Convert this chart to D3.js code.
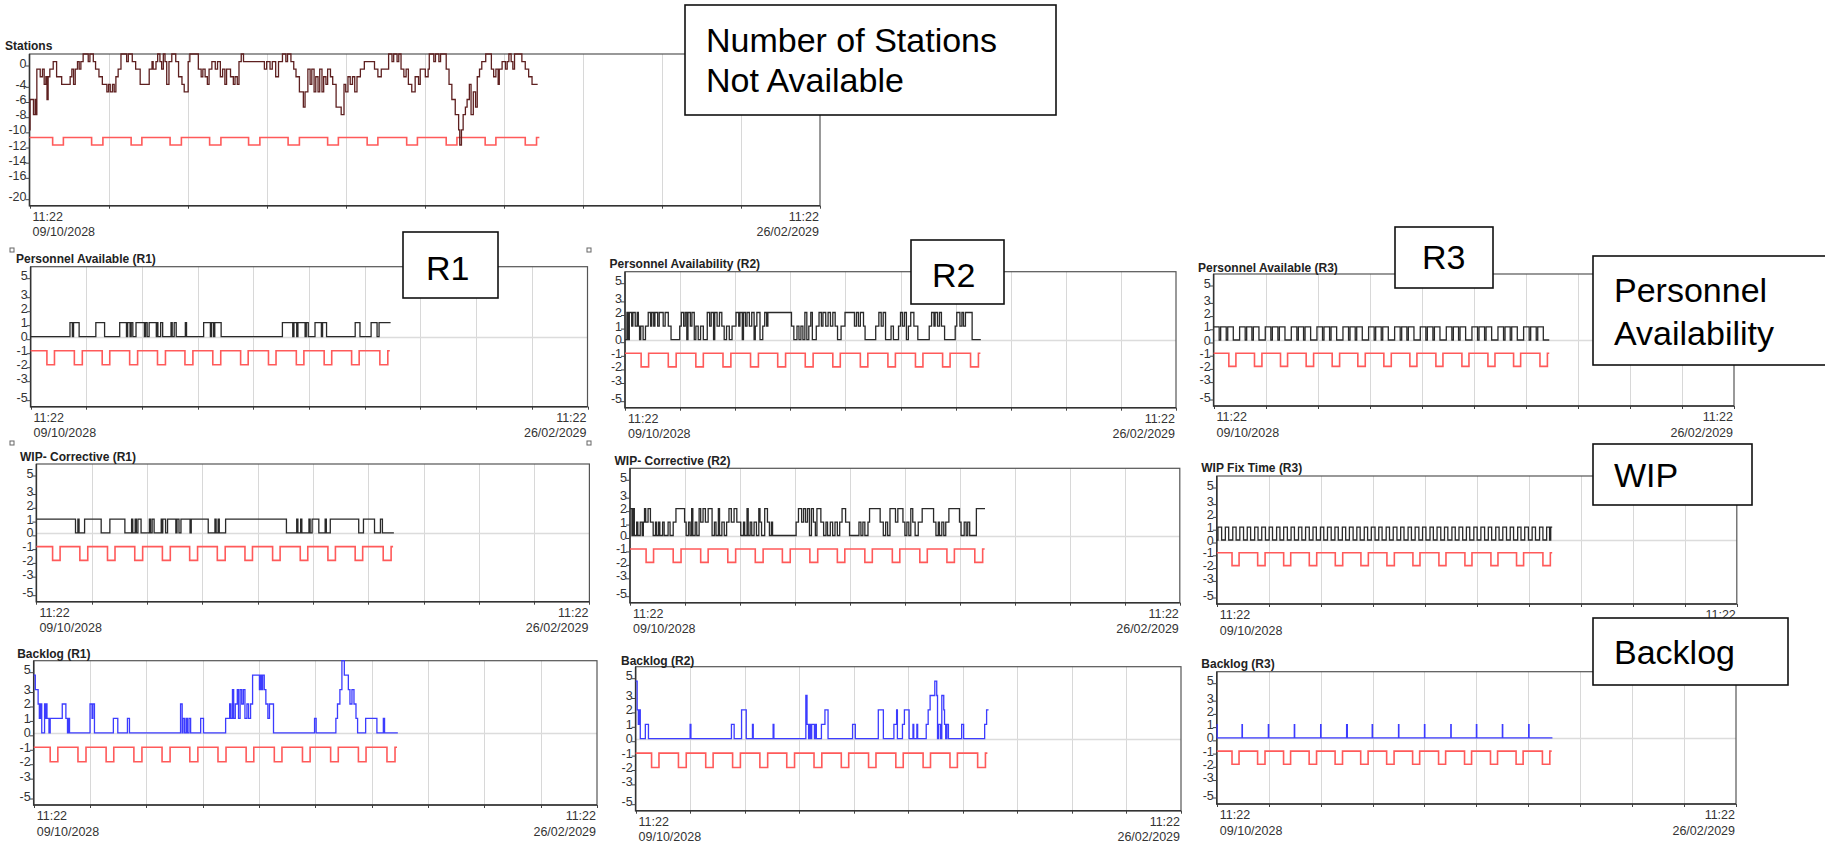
<!DOCTYPE html>
<html>
<head>
<meta charset="utf-8">
<script src="https://cdn.jsdelivr.net/npm/d3@7"></script>
<style>
body { margin: 0; background: #fff; }
svg { display: block; font-family: "Liberation Sans", Arial, sans-serif; }
</style>
</head>
<body>
<script>
// time runs in days after 11:22 09/10/2028, the axis spans 140 days
var spanDays = 140;
var startLabels = ["11:22", "09/10/2028"];
var endLabels = ["11:22", "26/02/2029"];
var stationTicks = [0, -4, -6, -8, -10, -12, -14, -16, -20];
var panelTicks = [5, 3, 2, 1, 0, -1, -2, -3, -5];

// red calendar line: weekend dips [start, end] in days
var weekendDips = [[4.1,6.0],[11.0,13.0],[18.0,19.9],[24.9,26.9],[31.9,33.9],[38.8,40.8],[45.8,47.8],
  [52.8,54.7],[59.8,61.7],[66.8,68.7],[73.8,75.7],[80.7,82.6],[87.8,89.8]];
var calendarEnd = 90.3;
var stationCalendarLevels = [-11, -12];
var panelCalendarLevels = [-1, -2];

// [day, value] step points
var stationsDown = [[0,-10],[0.1,-6],[0.7,-8],[1.0,-6],[1.2,-8],[1.3,-2],[1.9,-3],[2.3,-2],[2.6,-4],[2.9,-3],[3.1,-6],[3.3,-3],[3.6,-2],[4.2,-1],[4.8,-3],[5.7,-4],[7.2,-3],[7.5,-2],[7.8,-4],[8.1,-2],[8.5,-1],[8.8,-2],[9.1,-1],[9.5,0],[10.4,-1],[10.7,0],[11.3,-1],[11.7,-2],[12.3,-3],[12.9,-4],[13.7,-5],[14.0,-4],[14.3,-5],[14.7,-4],[15.0,-5],[15.3,-3],[15.7,-2],[16.2,0],[17.2,-1],[17.5,0],[18.2,-1],[18.8,-2],[19.6,-4],[21.2,-2],[21.7,-1],[21.9,-2],[22.4,-1],[22.7,0],[23.1,-1],[23.4,-2],[23.7,0],[24.0,-1],[24.3,-4],[24.7,-1],[25.2,0],[25.9,-1],[26.4,-3],[27.0,-4],[27.4,-5],[28.1,-1],[28.4,0],[29.9,-2],[30.4,-3],[30.7,-2],[31.1,-3],[31.5,-4],[31.8,-2],[32.3,-1],[32.9,-2],[33.3,-1],[33.8,-3],[34.2,-2],[34.6,-4],[34.9,-2],[35.6,-3],[36.1,-4],[36.4,-3],[36.8,-4],[37.1,-1],[37.5,0],[37.9,-1],[41.6,-2],[42.0,-1],[42.6,-2],[43.0,-1],[43.6,-3],[44.1,-1],[44.8,0],[45.4,-1],[45.7,0],[46.3,-1],[46.8,-2],[47.2,-3],[47.8,-5],[48.5,-7],[48.8,-5],[49.3,-2],[49.7,-4],[50.0,-2],[50.4,-5],[50.7,-3],[51.1,-5],[51.4,-2],[51.8,-5],[52.1,-3],[52.5,-4],[52.8,-2],[53.3,-3],[53.7,-4],[54.3,-7],[55.2,-8],[55.7,-4],[56.0,-5],[56.4,-3],[56.8,-4],[57.2,-3],[57.6,-5],[58.0,-3],[58.6,-2],[59.3,-1],[61.1,-2],[61.7,-3],[62.3,-2],[63.6,0],[64.2,-1],[64.5,0],[65.1,-1],[65.4,0],[65.8,-2],[66.3,-3],[66.7,-2],[67.1,-4],[67.7,-5],[68.3,-3],[68.9,-4],[69.2,-2],[70.1,-3],[70.6,-2],[70.8,0],[71.6,-1],[71.9,0],[72.5,-1],[72.8,0],[73.8,-2],[74.3,-4],[74.8,-6],[75.4,-8],[76.0,-10],[76.2,-12],[76.5,-10],[76.8,-8],[77.2,-7],[77.5,-6],[77.9,-4],[78.2,-8],[78.6,-5],[79.0,-7],[79.3,-3],[79.7,-2],[80.1,-1],[80.8,0],[81.8,-2],[82.2,-3],[82.6,-2],[83.0,-4],[83.2,-2],[83.7,-1],[84.3,-2],[84.6,-1],[84.9,0],[85.3,-1],[85.6,-2],[85.9,0],[87.2,-1],[87.8,-2],[88.4,-3],[89.0,-4],[90.0,-4]];

var personnelR1 = [[0,0],[9.9,1],[10.5,0],[10.8,1],[12.2,0],[16.4,1],[18.6,0],[22.4,1],[24.1,0],[24.4,1],[25.0,0],[25.3,1],[25.7,0],[26.5,1],[28.6,0],[28.9,1],[29.3,0],[29.8,1],[31.6,0],[31.8,1],[32.0,0],[32.7,1],[33.2,0],[35.3,1],[35.6,0],[36.1,1],[36.6,0],[38.9,1],[39.2,0],[43.5,1],[45.2,0],[45.5,1],[46.0,0],[46.3,1],[47.9,0],[63.3,1],[65.9,0],[66.2,1],[66.9,0],[67.2,1],[69.0,0],[69.3,1],[69.8,0],[71.5,1],[73.1,0],[73.4,1],[74.4,0],[81.6,1],[82.8,0],[85.6,1],[87.1,0],[87.6,1],[90.5,1]];

var personnelR2 = [[0,0],[0.5,2],[0.8,0],[1.1,2],[1.7,1],[2.0,2],[2.6,1],[3.1,2],[3.4,1],[3.7,0],[4.0,1],[4.6,0],[5.2,1],[5.9,2],[6.5,1],[6.8,2],[7.3,1],[7.6,2],[8.3,1],[8.7,2],[9.7,1],[10.2,2],[11.0,1],[11.7,0],[13.9,1],[14.3,2],[14.9,1],[15.3,2],[15.7,0],[16.0,2],[16.6,1],[17.0,2],[17.6,0],[18.0,1],[18.6,0],[19.2,1],[19.9,0],[20.9,2],[21.5,1],[21.9,2],[22.5,0],[22.8,2],[23.4,1],[24.0,2],[24.6,1],[25.2,0],[25.8,1],[26.5,0],[27.2,1],[28.2,2],[28.9,1],[29.2,2],[29.8,0],[30.1,2],[30.6,1],[31.0,2],[31.6,1],[32.2,2],[32.8,0],[33.1,1],[33.5,2],[34.3,0],[35.0,1],[35.5,2],[36.0,1],[36.3,2],[42.3,1],[42.9,0],[43.7,1],[44.2,0],[44.7,1],[45.2,0],[45.7,2],[46.2,0],[46.7,1],[47.2,2],[47.6,0],[48.6,1],[49.3,2],[49.9,1],[50.3,2],[51.0,1],[51.6,2],[52.2,1],[52.8,2],[53.4,1],[54.0,0],[54.9,1],[55.9,2],[58.3,1],[58.8,2],[59.3,1],[59.8,2],[60.6,1],[61.0,0],[63.7,1],[64.5,2],[65.1,1],[65.6,2],[66.2,0],[67.6,1],[68.2,0],[69.5,1],[70.0,2],[70.5,1],[71.0,2],[71.5,0],[72.0,1],[72.6,2],[73.4,1],[74.4,0],[77.3,1],[77.9,2],[78.5,1],[78.8,2],[79.4,1],[79.9,2],[80.4,1],[81.2,0],[83.9,1],[84.3,2],[85.1,1],[85.6,2],[86.0,1],[86.5,2],[88.2,0],[90.4,0]];

var personnelR3 = [[0,1],[1.5,0],[1.9,1],[3.4,0],[3.8,1],[5.3,0],
  [7.0,1],[8.5,0],[8.9,1],[10.3,0],[10.7,1],[12.2,0],
  [13.9,1],[15.4,0],[15.8,1],[17.3,0],[17.7,1],[19.2,0],
  [20.9,1],[22.4,0],[22.8,1],[24.2,0],[24.6,1],[26.1,0],
  [27.8,1],[29.3,0],[29.7,1],[31.2,0],[31.6,1],[33.1,0],
  [34.8,1],[36.3,0],[36.7,1],[38.1,0],[38.5,1],[40.0,0],
  [41.7,1],[43.2,0],[43.6,1],[45.1,0],[45.5,1],[47.0,0],
  [48.7,1],[50.2,0],[50.6,1],[52.0,0],[52.4,1],[53.9,0],
  [55.6,1],[57.1,0],[57.5,1],[59.0,0],[59.4,1],[60.9,0],
  [62.6,1],[64.1,0],[64.5,1],[65.9,0],[66.3,1],[67.8,0],
  [69.5,1],[71.0,0],[71.4,1],[72.9,0],[73.3,1],[74.8,0],
  [76.5,1],[78.0,0],[78.4,1],[79.8,0],[80.2,1],[81.7,0],
  [83.4,1],[84.9,0],[85.3,1],[86.8,0],[87.2,1],[88.7,0],[90.3,0]];

var wipR1 = [[0,1],[9.9,0],[10.5,1],[10.8,0],[12.2,1],[16.4,0],[18.6,1],[22.4,0],[24.1,1],[24.4,0],[25.0,1],[25.3,0],[25.7,1],[26.5,0],[28.6,1],[28.9,0],[29.3,1],[29.8,0],[31.6,1],[31.8,0],[32.0,1],[32.7,0],[33.2,1],[35.3,0],[35.6,1],[36.1,0],[36.6,1],[38.9,0],[39.2,1],[43.5,0],[45.2,1],[45.5,0],[46.0,1],[46.3,0],[47.9,1],[63.3,0],[65.9,1],[66.2,0],[66.9,1],[67.2,0],[69.0,1],[69.3,0],[69.8,1],[71.5,0],[73.1,1],[73.4,0],[74.4,1],[81.6,0],[82.8,1],[85.6,0],[87.1,1],[87.6,0],[90.5,0]];

var wipR2 = [[0,2],[0.5,0],[0.8,2],[1.1,0],[1.7,1],[2.0,0],[2.6,1],[3.1,0],[3.4,1],[3.7,2],[4.0,1],[4.6,2],[5.2,1],[5.9,0],[6.5,1],[6.8,0],[7.3,1],[7.6,0],[8.3,1],[8.7,0],[9.7,1],[10.2,0],[11.0,1],[11.7,2],[13.9,1],[14.3,0],[14.9,1],[15.3,0],[15.7,2],[16.0,0],[16.6,1],[17.0,0],[17.6,2],[18.0,1],[18.6,2],[19.2,1],[19.9,2],[20.9,0],[21.5,1],[21.9,0],[22.5,2],[22.8,0],[23.4,1],[24.0,0],[24.6,1],[25.2,2],[25.8,1],[26.5,2],[27.2,1],[28.2,0],[28.9,1],[29.2,0],[29.8,2],[30.1,0],[30.6,1],[31.0,0],[31.6,1],[32.2,0],[32.8,2],[33.1,1],[33.5,0],[34.3,2],[35.0,1],[35.5,0],[36.0,1],[36.3,0],[42.3,1],[42.9,2],[43.7,1],[44.2,2],[44.7,1],[45.2,2],[45.7,0],[46.2,2],[46.7,1],[47.2,0],[47.6,2],[48.6,1],[49.3,0],[49.9,1],[50.3,0],[51.0,1],[51.6,0],[52.2,1],[52.8,0],[53.4,1],[54.0,2],[54.9,1],[55.9,0],[58.3,1],[58.8,0],[59.3,1],[59.8,0],[60.6,1],[61.0,2],[63.7,1],[64.5,0],[65.1,1],[65.6,0],[66.2,2],[67.6,1],[68.2,2],[69.5,1],[70.0,0],[70.5,1],[71.0,0],[71.5,2],[72.0,1],[72.6,0],[73.4,1],[74.4,2],[77.3,1],[77.9,0],[78.5,1],[78.8,0],[79.4,1],[79.9,0],[80.4,1],[81.2,2],[83.9,1],[84.3,0],[85.1,1],[85.6,0],[86.0,1],[86.5,0],[88.2,2],[90.4,2]];

var wipFixR3 = [[0,0],[0.3,1],[1.3,0],[2.3,1],[3.2,0],[4.3,1],[5.2,0],[6.2,1],[7.2,0],[8.2,1],[9.1,0],[10.2,1],[11.1,0],[12.1,1],[13.1,0],[14.1,1],[15.0,0],[16.1,1],[17.0,0],[18.0,1],[19.0,0],[20.0,1],[20.9,0],[22.0,1],[22.9,0],[23.9,1],[24.9,0],[25.9,1],[26.8,0],[27.9,1],[28.8,0],[29.8,1],[30.8,0],[31.8,1],[32.7,0],[33.8,1],[34.7,0],[35.7,1],[36.7,0],[37.7,1],[38.6,0],[39.7,1],[40.6,0],[41.6,1],[42.6,0],[43.6,1],[44.5,0],[45.6,1],[46.5,0],[47.5,1],[48.5,0],[49.5,1],[50.4,0],[51.5,1],[52.4,0],[53.4,1],[54.4,0],[55.4,1],[56.3,0],[57.4,1],[58.3,0],[59.3,1],[60.3,0],[61.3,1],[62.2,0],[63.3,1],[64.2,0],[65.2,1],[66.2,0],[67.2,1],[68.1,0],[69.2,1],[70.1,0],[71.1,1],[72.1,0],[73.1,1],[74.0,0],[75.1,1],[76.0,0],[77.0,1],[78.0,0],[79.0,1],[79.9,0],[81.0,1],[81.9,0],[82.9,1],[83.9,0],[84.9,1],[85.8,0],[86.9,1],[87.8,0],[88.8,1],[89.6,0],[89.9,1],[90.3,1]];

var backlogR1 = [[0,4],[0.4,3],[1.1,2],[1.4,1],[1.7,2],[2.0,0],[2.7,2],[2.9,1],[3.1,2],[3.3,1],[3.8,0],[4.1,1],[7.1,2],[8.0,1],[8.4,0],[8.6,1],[8.9,0],[14.0,2],[14.5,1],[14.7,2],[15.1,0],[19.8,1],[20.9,0],[23.3,1],[23.8,0],[36.5,2],[36.9,0],[37.1,1],[37.5,0],[37.9,1],[38.2,0],[38.6,1],[39.0,0],[41.5,1],[42.2,0],[47.7,1],[48.7,2],[49.0,1],[49.4,3],[49.7,1],[50.1,2],[50.6,3],[50.9,1],[51.3,3],[51.7,2],[52.1,3],[52.5,1],[53.0,2],[53.4,1],[53.9,2],[54.4,4],[56.1,3],[56.3,4],[56.6,3],[56.9,4],[57.3,3],[57.7,2],[58.2,1],[58.6,2],[59.6,0],[69.8,1],[70.2,0],[75.1,1],[75.5,2],[76.1,3],[76.6,5],[77.2,4],[78.2,3],[78.6,2],[79.1,3],[79.6,2],[80.1,1],[80.5,0],[82.5,1],[85.3,0],[86.9,1],[87.2,0],[90.5,0]];

var backlogR2 = [[0,4],[0.4,2],[0.7,1],[0.9,2],[1.2,0],[2.5,1],[3.3,0],[14.0,1],[14.2,0],[24.6,1],[25.3,0],[27.2,2],[28.4,0],[30.0,1],[30.2,0],[35.3,1],[35.5,0],[43.7,3],[44.0,1],[44.4,0],[44.7,1],[45.0,0],[45.2,1],[45.9,0],[46.2,1],[46.4,0],[47.7,1],[48.6,2],[49.4,0],[55.7,1],[56.4,0],[62.3,2],[63.6,0],[66.3,1],[67.0,2],[67.2,0],[68.5,1],[69.0,2],[70.2,0],[71.2,1],[71.4,0],[72.2,1],[72.4,0],[74.6,1],[75.1,2],[75.6,3],[76.8,4],[77.3,3],[77.5,0],[77.8,1],[78.3,0],[78.6,3],[79.1,2],[79.3,1],[79.6,0],[79.9,1],[80.3,0],[83.7,1],[84.2,0],[89.6,1],[90.1,2],[90.6,2]];

var backlogR3 = [[0,1],[0.1,0],[6.8,1],[6.9,0],[13.9,1],[14.0,0],[20.9,1],[21.0,0],[28.0,1],[28.1,0],[35.0,1],[35.2,0],[41.9,1],[42.0,0],[49.0,1],[49.1,0],[56.0,1],[56.1,0],[63.1,1],[63.2,0],[70.0,1],[70.1,0],[77.0,1],[77.1,0],[84.1,1],[84.2,0],[90.5,0]];

// layout of the screenshot
var W = 1825, H = 845;
var svg = d3.select("body").append("svg").attr("width", W).attr("height", H);
svg.append("rect").attr("width", W).attr("height", H).attr("fill", "#fff");

var lineColors = { red: "#ff5a5a", brown: "#5e2020", black: "#2a2a2a", blue: "#3c3cff" };

function calendarSeries(levels) {
  var pts = [[0, levels[0]]];
  weekendDips.forEach(function(w) {
    pts.push([w[0], levels[1]]);
    pts.push([w[1], levels[0]]);
  });
  pts.push([calendarEnd, levels[0]]);
  return pts;
}

function drawPanel(p) {
  var g = svg.append("g");
  var x = d3.scaleLinear().domain([0, spanDays]).range([p.x0, p.x1]);
  var y = d3.scaleLinear().domain(p.yDomain).range([p.y1, p.y0]);
  var gridDays = d3.range(0, spanDays + 1, 14);

  // vertical grid
  g.selectAll(".vg").data(gridDays.slice(1, -1)).enter().append("line")
    .attr("x1", d => Math.round(x(d)) + 0.5).attr("x2", d => Math.round(x(d)) + 0.5)
    .attr("y1", p.y0).attr("y2", p.y1)
    .attr("stroke", "#d8d8d8").attr("stroke-width", 1);

  // zero line
  if (p.zeroLine) {
    g.append("line").attr("x1", p.x0).attr("x2", p.x1)
      .attr("y1", Math.round(y(0)) + 0.5).attr("y2", Math.round(y(0)) + 0.5)
      .attr("stroke", "#dcdcdc").attr("stroke-width", 1.5);
  }

  // bottom ticks
  g.selectAll(".bt").data(gridDays).enter().append("line")
    .attr("x1", d => Math.round(x(d)) + 0.5).attr("x2", d => Math.round(x(d)) + 0.5)
    .attr("y1", p.y1).attr("y2", p.y1 + 3)
    .attr("stroke", "#444");

  // frame
  g.append("rect").attr("x", p.x0).attr("y", p.y0)
    .attr("width", p.x1 - p.x0).attr("height", p.y1 - p.y0)
    .attr("fill", "none").attr("stroke", "#555").attr("stroke-width", 1.2);
  g.append("path")
    .attr("d", "M" + p.x0 + "," + p.y0 + "V" + p.y1 + "H" + p.x1)
    .attr("fill", "none").attr("stroke", "#333").attr("stroke-width", 1.5);

  // y labels, kept inside the frame
  var labelY = function(v) { return Math.max(p.y0 + 9, Math.min(p.y1 - 9, y(v))); };
  g.selectAll(".yt").data(p.ticks).enter().append("line")
    .attr("x1", p.x0 - 4).attr("x2", p.x0)
    .attr("y1", d => labelY(d) + 3).attr("y2", d => labelY(d) + 3)
    .attr("stroke", "#444");
  g.selectAll(".yl").data(p.ticks).enter().append("text")
    .attr("x", p.x0 - 3).attr("y", d => labelY(d) + 4.5)
    .attr("text-anchor", "end").attr("font-size", "12.5px").attr("fill", "#333")
    .text(d => d);

  // x labels (the end date of one panel sits under a call-out box)
  [startLabels, endLabels].forEach(function(lab, i) {
    var t = g.append("text").attr("font-size", "12.5px").attr("fill", "#333")
      .attr("text-anchor", i ? "end" : "start");
    var xx = i ? p.x1 - 1 : p.x0 + 3;
    t.append("tspan").attr("x", xx).attr("y", p.y1 + 15).text(lab[0]);
    if (!(i && p.hideEndDate)) t.append("tspan").attr("x", xx).attr("y", p.y1 + 30.5).text(lab[1]);
  });

  // title
  g.append("text").attr("x", p.tx).attr("y", p.ty)
    .attr("font-size", "12px").attr("font-weight", "bold").attr("fill", "#222")
    .text(p.title);

  // series
  var line = d3.line().x(d => x(d[0])).y(d => y(d[1])).curve(d3.curveStepAfter);
  g.append("path").datum(calendarSeries(p.calendar)).attr("d", line)
    .attr("fill", "none").attr("stroke", lineColors.red).attr("stroke-width", 1.6);
  g.append("path").datum(p.series).attr("d", line)
    .attr("fill", "none").attr("stroke", lineColors[p.color]).attr("stroke-width", 1.3);
}

var panels = [
  { title: "Stations", tx: 5, ty: 50, x0: 29.5, x1: 820, y0: 54, y1: 205.7, yDomain: [-20, 0],
    ticks: stationTicks, series: stationsDown, color: "brown", calendar: stationCalendarLevels, zeroLine: false },
  { title: "Personnel Available (R1)", tx: 16, ty: 263, x0: 30.6, x1: 587.5, y0: 266.7, y1: 406.7, yDomain: [-5, 5],
    ticks: panelTicks, series: personnelR1, color: "black", calendar: panelCalendarLevels, zeroLine: true },
  { title: "Personnel Availability (R2)", tx: 609.6, ty: 268, x0: 625, x1: 1176, y0: 271.7, y1: 407.7, yDomain: [-5, 5],
    ticks: panelTicks, series: personnelR2, color: "black", calendar: panelCalendarLevels, zeroLine: true },
  { title: "Personnel Available (R3)", tx: 1198, ty: 271.5, x0: 1213.6, x1: 1734, y0: 274, y1: 406, yDomain: [-5, 5],
    ticks: panelTicks, series: personnelR3, color: "black", calendar: panelCalendarLevels, zeroLine: true },
  { title: "WIP- Corrective (R1)", tx: 20, ty: 461, x0: 36.4, x1: 589.4, y0: 464, y1: 601.7, yDomain: [-5, 5],
    ticks: panelTicks, series: wipR1, color: "black", calendar: panelCalendarLevels, zeroLine: true },
  { title: "WIP- Corrective (R2)", tx: 614.5, ty: 464.5, x0: 630, x1: 1179.8, y0: 468.3, y1: 602.7, yDomain: [-5, 5],
    ticks: panelTicks, series: wipR2, color: "black", calendar: panelCalendarLevels, zeroLine: true },
  { title: "WIP Fix Time (R3)", tx: 1201.3, ty: 471.5, x0: 1216.8, x1: 1736.8, y0: 476, y1: 604, yDomain: [-5, 5],
    ticks: panelTicks, series: wipFixR3, color: "black", calendar: panelCalendarLevels, zeroLine: true, hideEndDate: true },
  { title: "Backlog (R1)", tx: 17.2, ty: 658, x0: 33.7, x1: 597, y0: 660.7, y1: 805, yDomain: [-5, 5],
    ticks: panelTicks, series: backlogR1, color: "blue", calendar: panelCalendarLevels, zeroLine: true },
  { title: "Backlog (R2)", tx: 621, ty: 664.5, x0: 635.6, x1: 1181, y0: 666.7, y1: 810.7, yDomain: [-5, 5],
    ticks: panelTicks, series: backlogR2, color: "blue", calendar: panelCalendarLevels, zeroLine: true },
  { title: "Backlog (R3)", tx: 1201.3, ty: 668, x0: 1216.8, x1: 1736, y0: 671.7, y1: 804, yDomain: [-5, 5],
    ticks: panelTicks, series: backlogR3, color: "blue", calendar: panelCalendarLevels, zeroLine: true }
];
panels.forEach(drawPanel);

// selection handles around the R1 personnel panel
[[12, 250], [589, 250], [12, 443], [589, 443]].forEach(function(c) {
  svg.append("rect").attr("x", c[0] - 2).attr("y", c[1] - 2).attr("width", 4).attr("height", 4)
    .attr("fill", "#fff").attr("stroke", "#666").attr("stroke-width", 1);
});

// call-out boxes
var callouts = [
  { x: 685, y: 5, w: 371, h: 110, lines: ["Number of Stations", "Not Available"], tx: 706, ty: [52, 92] },
  { x: 403, y: 232, w: 95, h: 66, lines: ["R1"], tx: 426, ty: [280] },
  { x: 911, y: 240, w: 93, h: 64, lines: ["R2"], tx: 932, ty: [287] },
  { x: 1395, y: 227, w: 98, h: 61, lines: ["R3"], tx: 1422, ty: [269] },
  { x: 1593, y: 256, w: 240, h: 109, lines: ["Personnel", "Availability"], tx: 1614, ty: [302, 345] },
  { x: 1593, y: 444, w: 159, h: 61, lines: ["WIP"], tx: 1614, ty: [487] },
  { x: 1593, y: 618, w: 195, h: 67, lines: ["Backlog"], tx: 1614, ty: [664] }
];
callouts.forEach(function(c) {
  svg.append("rect").attr("x", c.x).attr("y", c.y).attr("width", c.w).attr("height", c.h)
    .attr("fill", "#fff").attr("stroke", "#111").attr("stroke-width", 1.6);
  c.lines.forEach(function(s, i) {
    svg.append("text").attr("x", c.tx).attr("y", c.ty[i])
      .attr("font-size", "34px").attr("fill", "#000").text(s);
  });
});
</script>
</body>
</html>
